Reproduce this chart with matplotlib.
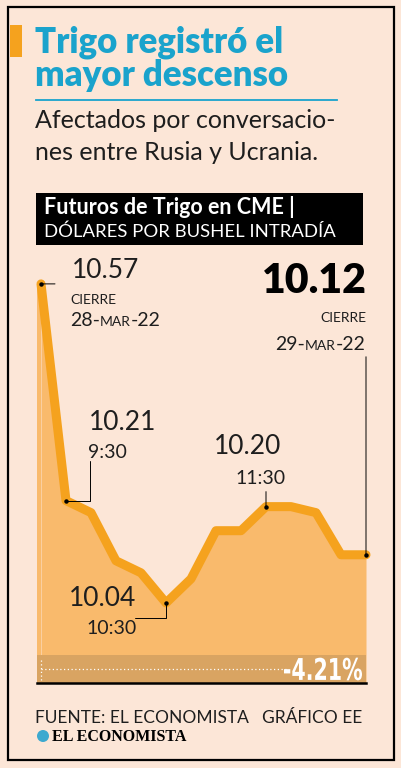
import matplotlib
matplotlib.use("Agg")
import matplotlib.pyplot as plt
from matplotlib.patches import Rectangle, Circle, PathPatch
from matplotlib.offsetbox import TextArea, HPacker, AnnotationBbox
from matplotlib.textpath import TextPath
from matplotlib.font_manager import FontProperties
from matplotlib.transforms import Affine2D

# datos: futuros de trigo intradía (dólares por bushel)
horas = list(range(14))
precios = [10.57, 10.21, 10.19, 10.11, 10.09, 10.04, 10.08,
           10.16, 10.16, 10.20, 10.20, 10.19, 10.12, 10.12]
variacion = "-4.21%"

W, H = 402, 768
BG = "#FCE6D7"
TEAL = "#1AA3CC"
NARANJA = "#F5A21E"
RELLENO = "#F9BA6C"
BANDA = "#D9A462"
FONT = "Lato"
OSC = "#1E1E1E"

fig = plt.figure(figsize=(W / 100, H / 100), dpi=100)
fig.patch.set_facecolor(BG)


def fx(x):
    return x / W


def fy(y):
    return 1 - y / H


def txt(x, y, s, **kw):
    kw.setdefault("family", FONT)
    kw.setdefault("va", "center")
    kw.setdefault("color", OSC)
    return fig.text(fx(x), fy(y), s, **kw)


# marco
fig.add_artist(Rectangle((fx(8), fy(760)), fx(386), (753) / H, fill=False,
                         ec="black", lw=1.6, transform=fig.transFigure))
# barra naranja
fig.add_artist(Rectangle((fx(10), fy(57)), fx(12), 32 / H, fc=NARANJA,
                         ec="none", transform=fig.transFigure))

# titulo
txt(35, 42, "Trigo registró el", color=TEAL, fontsize=25, weight="heavy")
txt(35, 75, "mayor descenso", color=TEAL, fontsize=25, weight="heavy")
fig.add_artist(plt.Line2D([fx(36), fx(337)], [fy(100), fy(100)], color=TEAL,
                          lw=1.3, transform=fig.transFigure))
txt(35, 120, "Afectados por conversacio-", fontsize=18)
txt(35, 153, "nes entre Rusia y Ucrania.", fontsize=18)

# caja negra
fig.add_artist(Rectangle((fx(36), fy(245)), fx(327), 52 / H, fc="black",
                         ec="none", transform=fig.transFigure))
txt(44, 207, "Futuros de Trigo en CME |", color="white", fontsize=15.5,
    weight="bold")
txt(44, 232, "DÓLARES POR BUSHEL INTRADÍA", color="white", fontsize=13.3)

# grafico
ax = fig.add_axes([fx(37), fy(683), fx(329), 428 / H])
ax.set_facecolor("none")
ax.set_xlim(-0.16, 13)
ax.set_ylim(9.907, 10.618)
piso = ax.get_ylim()[0]
ax.fill_between(horas, precios, piso, color=RELLENO, lw=0, zorder=1)
ax.fill_between([ax.get_xlim()[0], horas[0]], precios[0], piso, color=RELLENO,
                lw=0, zorder=1)
ax.plot(horas, precios, color=NARANJA, lw=6.5, solid_joinstyle="round",
        solid_capstyle="round", zorder=3, clip_on=False)
ax.axhspan(piso, 9.953, color=BANDA, lw=0, zorder=2)
ax.plot([0, 9.8], [9.93, 9.93], color="white", lw=0.9, ls=(0, (1, 2)),
        zorder=4)
ax.plot([0, 0], [9.912, 9.949], color="white", lw=0.9, ls=(0, (1, 2)),
        zorder=4)
for s in ["top", "left", "right"]:
    ax.spines[s].set_visible(False)
ax.spines["bottom"].set_linewidth(1.8)
ax.set_xticks([])
ax.set_yticks([])

# porcentaje en letra condensada (texto comprimido a lo ancho)
tp = TextPath((0, 0), variacion, size=30,
              prop=FontProperties(family="DejaVu Sans", weight="bold"))
ext = tp.get_extents()
sx = 78 / ext.width
tr = Affine2D().translate(-ext.x1, -(ext.y0 + ext.y1) / 2).scale(sx, 1) \
    .translate(362, H - 669)
fig.add_artist(PathPatch(tp, fc="white", ec="none", transform=tr, zorder=5))

# puntos anotados y guias
marcas = [0, 1, 5, 9, 13]
ax.plot([horas[i] for i in marcas], [precios[i] for i in marcas], "o",
        color="black", ms=2.2, zorder=6, clip_on=False)
guia = dict(arrowstyle="-", color="black", lw=0.7, shrinkA=0, shrinkB=0)
ax.annotate("", xy=(horas[0], precios[0]), xytext=(14, 0),
            textcoords="offset pixels", arrowprops=guia)
ax.annotate("", xy=(horas[1], precios[1]), xytext=(24, 40),
            textcoords="offset pixels",
            arrowprops=dict(guia, connectionstyle="angle,angleA=90,angleB=0,rad=0"))
ax.annotate("", xy=(horas[5], precios[5]), xytext=(-31, -15),
            textcoords="offset pixels",
            arrowprops=dict(guia, connectionstyle="angle,angleA=0,angleB=90,rad=0"))
ax.annotate("", xy=(horas[9], precios[9]), xytext=(0, 15),
            textcoords="offset pixels", arrowprops=guia)
ax.annotate("", xy=(horas[13], precios[13]), xytext=(0, 198),
            textcoords="offset pixels", arrowprops=guia)

# etiquetas
txt(72, 271, f"{precios[0]:.2f}", fontsize=19)
txt(70, 300, "CIERRE", fontsize=10)
txt(367, 281, f"{precios[13]:.2f}", color="black", fontsize=29.5,
    weight="heavy", ha="right")
txt(366, 318, "CIERRE", fontsize=10, ha="right")
txt(89, 422, f"{precios[1]:.2f}", fontsize=19)
txt(88, 452, "9:30", fontsize=14)
txt(214, 447, f"{precios[9]:.2f}", fontsize=19)
txt(286, 478, "11:30", fontsize=14, ha="right")
txt(136, 599, f"{precios[5]:.2f}", fontsize=19, ha="right")
txt(137, 628, "10:30", fontsize=14, ha="right")


def fecha(x, y, dia, align):
    estilo = dict(family=FONT, color=OSC)
    partes = [TextArea(dia + "-", textprops=dict(estilo, fontsize=14)),
              TextArea("MAR", textprops=dict(estilo, fontsize=10)),
              TextArea("-22", textprops=dict(estilo, fontsize=14))]
    caja = HPacker(children=partes, align="baseline", pad=0, sep=0)
    ab = AnnotationBbox(caja, (x, H - y), xycoords="figure pixels",
                        box_alignment=(align, 0.5), frameon=False, pad=0)
    fig.add_artist(ab)


fecha(70, 321, "28", 0)
fecha(366, 344, "29", 1)

# pie
txt(35, 718, "FUENTE: EL ECONOMISTA", fontsize=12.5)
txt(362, 718, "GRÁFICO EE", fontsize=12.5, ha="right")
fig.add_artist(Circle((43, H - 736), 6, transform=None, fc="#3DA9CF",
                      ec="none"))
txt(52, 737, "EL ECONOMISTA", color="black", fontsize=11.5, weight="bold",
    family="Liberation Serif")

fig.savefig("out.png", dpi=100, facecolor=BG)
